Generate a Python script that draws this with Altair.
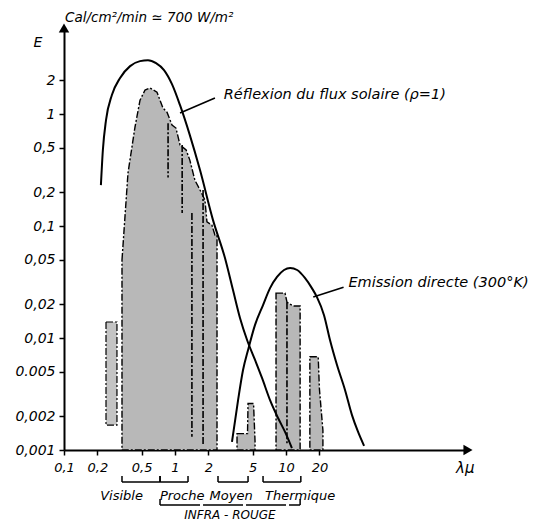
import altair as alt
import pandas as pd

FONT = "DejaVu Sans"
X_MIN, X_MAX = 0.1, 436
Y_MIN, Y_MAX = 0.001, 5.87
W, H = 404, 422

# Reflexion du flux solaire (rho = 1)
solar_x = [0.215, 0.224, 0.239, 0.270, 0.320, 0.394, 0.484, 0.571, 0.675, 0.796, 0.939,
           1.11, 1.36, 1.68, 2.20, 2.82, 3.33, 3.85, 4.46, 5.26, 6.08, 7.18, 8.48, 9.80, 11.3]
solar_e = [0.232, 0.478, 0.883, 1.48, 2.10, 2.68, 2.97, 3.03, 2.85, 2.47, 1.85,
           1.20, 0.649, 0.316, 0.113, 0.0518, 0.0268, 0.0151, 0.0096, 0.00637, 0.00440,
           0.00279, 0.00193, 0.00145, 0.00104]

# Emission directe (300 K)
emis_x = [3.26, 3.70, 4.10, 4.55, 5.26, 6.21, 7.18, 8.30, 9.60, 10.9, 12.6, 14.8, 17.1,
          19.0, 22.0, 24.9, 28.8, 34.0, 39.3, 44.6, 50.5]
emis_e = [0.00118, 0.00279, 0.00518, 0.00782, 0.0131, 0.0197, 0.0279, 0.0351, 0.0405,
          0.0422, 0.0405, 0.0344, 0.0279, 0.0232, 0.0160, 0.0096, 0.00574, 0.00344,
          0.00205, 0.00145, 0.00109]

# atmospheric windows (shaded)
win_main_x = [0.333, 0.377, 0.436, 0.484, 0.537, 0.596, 0.688, 0.733, 0.780, 0.847, 0.940,
              1.02, 1.11, 1.26, 1.36, 1.51, 1.68, 1.86, 1.94, 2.15, 2.29, 2.39]
win_main_e = [0.0497, 0.297, 0.766, 1.33, 1.64, 1.71, 1.57, 1.33, 1.13, 1.04, 0.798,
              0.750, 0.529, 0.478, 0.388, 0.257, 0.210, 0.171, 0.109, 0.102, 0.0832, 0.0832]
win_5_x = [3.62, 4.50, 4.55, 5.10, 5.26]
win_5_e = [0.0014, 0.0014, 0.0026, 0.0026, 0.0012]
win_th_x = [8.13, 9.80, 10.2, 11.6, 13.4]
win_th_e = [0.0252, 0.0252, 0.0209, 0.0193, 0.0193]
win_th2_x = [16.4, 19.5, 20.0, 21.5]
win_th2_e = [0.0068, 0.0068, 0.0035, 0.0015]
win_uv_x = [0.239, 0.300]
win_uv_e = [0.00167, 0.0139]

# inner dash-dot separations
sep_x = [0.866, 1.16, 1.42, 1.79, 10.2]
sep_top = [0.828, 0.529, 0.131, 0.21, 0.0209]
sep_bot = [0.272, 0.131, 0.00131, 0.0011, 0.0011]

# leader lines for the curve labels
lead_x1 = [1.11, 17.6]
lead_x2 = [2.29, 33.0]
lead_e1 = [1.02, 0.0232]
lead_e2 = [1.39, 0.0284]
curve_labels = ["Réflexion du flux solaire (ρ=1)", "Emission directe  (300°K)"]
curve_lab_x = [2.75, 36.5]
curve_lab_e = [1.48, 0.031]

# spectral band brackets
band_names = ["Visible", "Proche", "Moyen", "Thermique"]
band_start = [0.333, 0.733, 2.44, 6.21]
band_end = [0.733, 1.31, 4.55, 13.6]
band_label_x = [0.33, 1.16, 3.2, 13.4]
ir_start, ir_end, ir_label_x = 0.733, 13.4, 3.13

x_ticks = [0.1, 0.2, 0.5, 1, 2, 5, 10, 20]
x_tick_labels = ["0,1", "0,2", "0,5", "1", "2", "5", "10", "20"]
y_ticks = [2, 1, 0.5, 0.2, 0.1, 0.05, 0.02, 0.01, 0.005, 0.002, 0.001]
y_tick_labels = ["2", "1", "0,5", "0,2", "0,1", "0,05", "0,02", "0,01", "0.005", "0,002", "0,001"]


def lab_expr(vals, labs):
    return ("[" + ",".join(f"'{l}'" for l in labs) + "][indexof(["
            + ",".join(repr(v) for v in vals) + "], datum.value)]")


xs = alt.Scale(type="log", domain=[X_MIN, X_MAX], nice=False)
ys = alt.Scale(type="log", domain=[Y_MIN, Y_MAX], nice=False)
x_axis = alt.Axis(values=x_ticks, labelExpr=lab_expr(x_ticks, x_tick_labels), title=None,
                  grid=False, labelPadding=6, labelFlush=False, labelFontSize=13)
y_axis = alt.Axis(values=y_ticks, labelExpr=lab_expr(y_ticks, y_tick_labels), title=None,
                  grid=False, labelPadding=4, labelFlush=False, labelFontSize=14)


def X(f):
    return alt.X(f, type="quantitative", scale=xs, axis=x_axis)


def Y(f):
    return alt.Y(f, type="quantitative", scale=ys, axis=y_axis, stack=None)


solar = pd.DataFrame({"x": solar_x, "e": solar_e})
emis = pd.DataFrame({"x": emis_x, "e": emis_e})
wins = pd.concat([
    pd.DataFrame({"x": win_main_x, "e": win_main_e, "g": "a"}),
    pd.DataFrame({"x": win_5_x, "e": win_5_e, "g": "b"}),
    pd.DataFrame({"x": win_th_x, "e": win_th_e, "g": "c"}),
    pd.DataFrame({"x": win_th2_x, "e": win_th2_e, "g": "d"}),
])
uv = pd.DataFrame({"x": [win_uv_x[0]], "x2": [win_uv_x[1]], "e": [win_uv_e[0]], "e2": [win_uv_e[1]]})
seps = pd.DataFrame({"x": sep_x, "e": sep_top, "e2": sep_bot})
leads = pd.DataFrame({"x": lead_x1, "x2": lead_x2, "e": lead_e1, "e2": lead_e2})
clabs = pd.DataFrame({"x": curve_lab_x, "e": curve_lab_e, "t": curve_labels})
bands = pd.DataFrame({"s": band_start, "t": band_end, "n": band_names, "lx": band_label_x})

DASHDOT = [7, 2, 2, 2]

windows = alt.Chart(wins).mark_area(fill="#b8b8b8", stroke="black", strokeWidth=1.4,
                                    strokeDash=DASHDOT).encode(
    x=X("x"), y=Y("e"), y2=alt.Y2(datum=Y_MIN), detail="g:N")
uv_rect = alt.Chart(uv).mark_rect(fill="#c4c4c4", stroke="black", strokeWidth=1.2,
                                  strokeDash=DASHDOT).encode(
    x=X("x"), x2="x2", y=Y("e"), y2="e2")
sep_rules = alt.Chart(seps).mark_rule(color="black", strokeWidth=1.6, strokeDash=DASHDOT).encode(
    x=X("x"), y=Y("e"), y2="e2")

solar_line = alt.Chart(solar).mark_line(color="black", strokeWidth=2, interpolate="monotone").encode(
    x=X("x"), y=Y("e"))
emis_line = alt.Chart(emis).mark_line(color="black", strokeWidth=2, interpolate="monotone").encode(
    x=X("x"), y=Y("e"))
lead_rules = alt.Chart(leads).mark_rule(color="black", strokeWidth=1.6).encode(
    x=X("x"), x2="x2", y=Y("e"), y2="e2")
curve_text = alt.Chart(clabs).mark_text(align="left", baseline="middle", font=FONT,
                                        fontStyle="italic", fontSize=14.5, color="black").encode(
    x=X("x"), y=Y("e"), text="t:N")

# axis arrows
arrow_x = alt.Chart(pd.DataFrame({"a": [0]})).mark_point(
    shape="triangle-right", filled=True, color="black", size=110, opacity=1).encode(
    x=alt.X(datum=X_MAX, type="quantitative", scale=xs, axis=x_axis),
    y=alt.Y(datum=Y_MIN, type="quantitative", scale=ys, axis=y_axis))
arrow_y = alt.Chart(pd.DataFrame({"a": [0]})).mark_point(
    shape="triangle-up", filled=True, color="black", size=110, opacity=1).encode(
    x=alt.X(datum=X_MIN, type="quantitative", scale=xs, axis=x_axis),
    y=alt.Y(datum=Y_MAX, type="quantitative", scale=ys, axis=y_axis))

# brackets under the axis
BR_Y = 454
band_line = alt.Chart(bands).mark_rule(color="black", strokeWidth=1.5).encode(
    x=X("s"), x2="t", y=alt.value(BR_Y))
band_tick_s = alt.Chart(bands).mark_rule(color="black", strokeWidth=1.5).encode(
    x=X("s"), y=alt.value(BR_Y - 6), y2=alt.value(BR_Y))
band_tick_e = alt.Chart(bands).mark_rule(color="black", strokeWidth=1.5).encode(
    x=X("t"), y=alt.value(BR_Y - 6), y2=alt.value(BR_Y))
band_text = alt.Chart(bands).mark_text(font=FONT, fontStyle="italic", fontSize=13,
                                       baseline="middle", color="black").encode(
    x=X("lx"), y=alt.value(BR_Y + 14), text="n:N")

ir = pd.DataFrame({"s": [ir_start], "t": [ir_end], "lx": [ir_label_x], "n": ["INFRA - ROUGE"]})
IR_Y = 477
ir_line = alt.Chart(ir).mark_rule(color="black", strokeWidth=1.5, strokeDash=[40, 3]).encode(
    x=X("s"), x2="t", y=alt.value(IR_Y))
ir_tick_s = alt.Chart(ir).mark_rule(color="black", strokeWidth=1.5).encode(
    x=X("s"), y=alt.value(IR_Y - 6), y2=alt.value(IR_Y))
ir_tick_e = alt.Chart(ir).mark_rule(color="black", strokeWidth=1.5).encode(
    x=X("t"), y=alt.value(IR_Y - 6), y2=alt.value(IR_Y))
ir_text = alt.Chart(ir).mark_text(font=FONT, fontStyle="italic", fontSize=12,
                                  baseline="middle", color="black").encode(
    x=X("lx"), y=alt.value(IR_Y + 10), text="n:N")

misc = pd.DataFrame({"t": ["Cal/cm²/min ≃ 700 W/m²"]})
unit_text = alt.Chart(misc).mark_text(align="left", baseline="middle", font=FONT,
                                      fontStyle="italic", fontSize=13.5, color="black").encode(
    x=alt.value(1), y=alt.value(-10), text="t:N")
e_text = alt.Chart(pd.DataFrame({"t": ["E"]})).mark_text(
    baseline="middle", font=FONT, fontStyle="italic", fontSize=14, color="black").encode(
    x=alt.value(-26), y=alt.value(15), text="t:N")
lam_text = alt.Chart(pd.DataFrame({"t": ["λμ"]})).mark_text(
    baseline="middle", align="left", font=FONT, fontStyle="italic", fontSize=15,
    color="black").encode(
    x=alt.value(392), y=alt.value(440), text="t:N")

chart = alt.layer(
    windows, uv_rect, sep_rules, solar_line, emis_line, lead_rules, curve_text,
    arrow_x, arrow_y, band_line, band_tick_s, band_tick_e, band_text,
    ir_line, ir_tick_s, ir_tick_e, ir_text, unit_text, e_text, lam_text
).properties(
    width=W, height=H,
    autosize=alt.AutoSizeParams(type="none"),
    padding={"left": 56, "top": 20, "right": 77, "bottom": 72},
    background="white",
).configure_view(stroke=None, clip=False).configure_axis(
    domainColor="black", domainWidth=2, tickColor="black", tickWidth=1.5, tickSize=5,
    labelFont=FONT, labelFontStyle="italic", labelColor="black",
)

chart.save("out.html", embed_options={"renderer": "svg", "actions": False})
